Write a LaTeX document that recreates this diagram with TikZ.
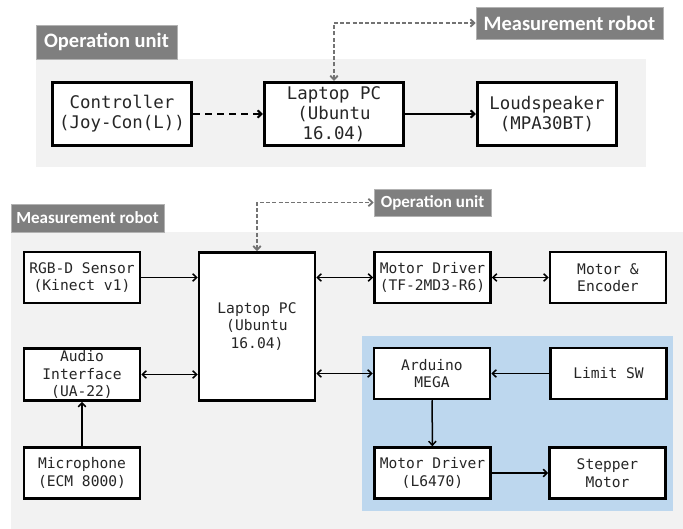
\documentclass[tikz,border=0pt]{standalone}
\usepackage{fontspec}
\setmainfont{Carlito}
\setmonofont{DejaVu Sans Mono}
\usetikzlibrary{
  arrows.meta
}
\definecolor{panelgray}{HTML}{F2F2F2}
\definecolor{labelgray}{HTML}{7F7F7F}
\definecolor{bluepanel}{HTML}{BDD7EE}

\begin{document}
\begin{tikzpicture}[x=1pt,y=-1pt,
  blk/.style={draw=black,fill=white,line width=2.5pt,inner sep=1pt,align=center,
    text=black!85,minimum width=116pt,minimum height=51pt,
    font=\ttfamily\fontsize{14.6}{17.5}\selectfont},
  bigblk/.style={blk,line width=3pt,minimum width=139pt,minimum height=63pt,
    font=\ttfamily\fontsize{17.4}{20}\selectfont},
  lbl/.style={fill=labelgray,draw=gray!60,line width=0.6pt,text=white,inner sep=0pt,
    font=\bfseries\fontsize{17}{17}\selectfont},
  biglbl/.style={lbl,font=\bfseries\fontsize{20.5}{20.5}\selectfont},
  tip/.tip={Straight Barb[length=4pt,width=7.5pt]},
  link/.style={line width=1.5pt,tip-tip},
  flow/.style={line width=1.5pt,-tip},
  remote/.style={black!55,line width=1.8pt,dash pattern=on 4pt off 2.2pt,tip-tip}
]
\useasboundingbox (0,0) rectangle (683,529);

\fill[panelgray] (36,59) rectangle (646,167);
\fill[panelgray] (11,232) rectangle (683,529);
\fill[bluepanel] (362,336) rectangle (673,511);

\node[biglbl,minimum width=141pt,minimum height=34pt] (oplbl) at (106.5,42) {Operation unit};
\node[biglbl,minimum width=187pt,minimum height=32pt] (robotlbl) at (569.5,23) {Measurement robot};
\node[bigblk] (ctrl) at (122,114) {Controller\\(Joy-Con(L))};
\node[bigblk] (pcone) at (334,114) {Laptop PC\\(Ubuntu\\16.04)};
\node[bigblk] (spk) at (547,114) {Loudspeaker\\(MPA30BT)};

\draw[line width=2pt,dash pattern=on 7pt off 5pt,-tip] (ctrl) -- (pcone);
\draw[flow,line width=2pt] (pcone) -- (spk);
\draw[remote] (pcone.north) -- (pcone.north |- robotlbl.west) -- (robotlbl.west);

\node[lbl,minimum width=153pt,minimum height=28pt] (robotlbltwo) at (87.5,218) {Measurement robot};
\node[lbl,minimum width=117pt,minimum height=27pt] (oplbltwo) at (432.5,202.5) {Operation unit};
\node[blk] (rgbd) at (82,277.5) {RGB-D Sensor\\(Kinect v1)};
\node[blk,minimum height=148pt] (pctwo) at (257,326.5) {Laptop PC\\(Ubuntu\\16.04)};
\node[blk] (mdrv) at (432.5,277.5) {Motor Driver\\(TF-2MD3-R6)};
\node[blk] (motenc) at (608,277.5) {Motor \&\\Encoder};
\node[blk,minimum height=52pt] (audio) at (82,374.5) {Audio\\Interface\\(UA-22)};
\node[blk] (mic) at (82,473) {Microphone\\(ECM 8000)};
\node[blk] (ard) at (432,373.5) {Arduino\\MEGA};
\node[blk] (limit) at (608.5,373.5) {Limit SW};
\node[blk] (mdrvtwo) at (432.5,473) {Motor Driver\\(L6470)};
\node[blk] (stepper) at (607.5,473) {Stepper\\Motor};

\draw[flow] (rgbd) -- (rgbd -| pctwo.west);
\draw[link] (mdrv -| pctwo.east) -- (mdrv);
\draw[link] (mdrv) -- (motenc);
\draw[link] (audio) -- (audio -| pctwo.west);
\draw[link] (ard -| pctwo.east) -- (ard);
\draw[flow] (limit) -- (ard);
\draw[flow] (ard) -- (mdrvtwo);
\draw[flow] (mdrvtwo) -- (stepper);
\draw[flow] (mic) -- (audio);
\draw[remote] (pctwo.north) -- (pctwo.north |- oplbltwo.west) -- (oplbltwo.west);
\end{tikzpicture}
\end{document}
